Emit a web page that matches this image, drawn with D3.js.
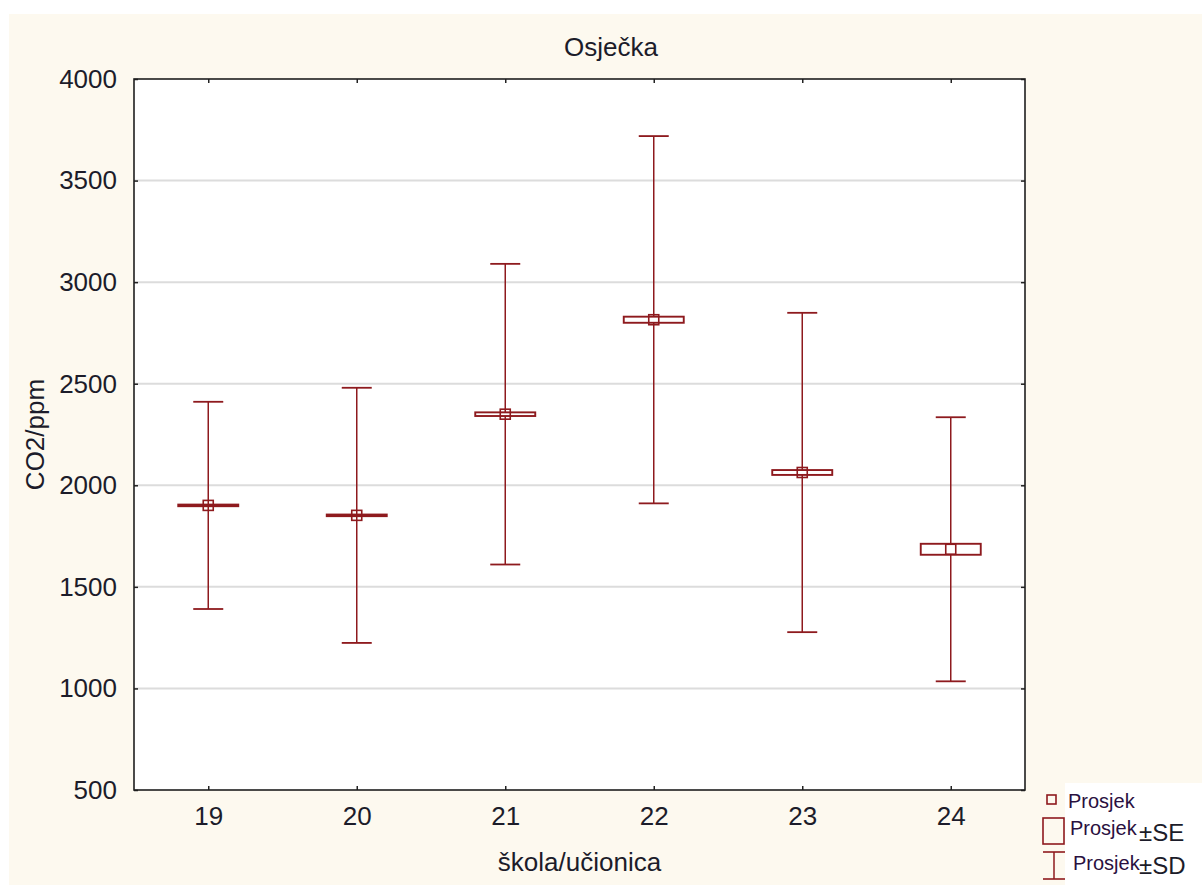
<!DOCTYPE html>
<html>
<head>
<meta charset="utf-8">
<script src="https://cdn.jsdelivr.net/npm/d3@7"></script>
<style>
  html, body { margin: 0; padding: 0; background: #ffffff; }
  svg { display: block; }
  text { font-family: "Liberation Sans", Arial, sans-serif; }
</style>
</head>
<body>
<script>
// CO2 concentration per classroom: mean, standard error and standard deviation
const categories = ["19", "20", "21", "22", "23", "24"];
const means      = [1901, 1852, 2350, 2815, 2063, 1685];
const stdErrors  = [4, 4, 9, 15, 12, 27];
const stdDevs    = [510, 628, 740, 904, 786, 650];
const yTicks     = [500, 1000, 1500, 2000, 2500, 3000, 3500, 4000];

const W = 1202, H = 885;
const margin = { left: 134, top: 79, right: 1025, bottom: 790 };
const ink = "#8e1a1e";
const textInk = "#1c1c2a";
const fontSize = 26;

const svg = d3.select("body").append("svg")
  .attr("width", W).attr("height", H);

// cream figure background
svg.append("rect").attr("x", 9).attr("y", 14)
  .attr("width", W - 9).attr("height", H - 14).attr("fill", "#fdf9ef");

const x = d3.scalePoint().domain(categories)
  .range([margin.left, margin.right]).padding(0.5);
const y = d3.scaleLinear().domain([500, 4000])
  .range([margin.bottom, margin.top]);

// plot panel
svg.append("rect")
  .attr("x", margin.left).attr("y", margin.top)
  .attr("width", margin.right - margin.left)
  .attr("height", margin.bottom - margin.top)
  .attr("fill", "#ffffff");

// horizontal grid
svg.append("g").selectAll("line")
  .data(yTicks.filter(t => t > 500 && t < 4000))
  .join("line")
  .attr("x1", margin.left).attr("x2", margin.right)
  .attr("y1", d => y(d)).attr("y2", d => y(d))
  .attr("stroke", "#dcdcdc").attr("stroke-width", 2);

// axes with short inward ticks
const tickFont = g => g.selectAll("text")
  .attr("font-size", fontSize).attr("fill", textInk)
  .attr("font-family", "'Liberation Sans', Arial, sans-serif");
const tickLines = g => {
  g.select(".domain").remove();
  g.selectAll("line").attr("stroke", "#222").attr("stroke-width", 1.5);
};

const axisL = svg.append("g")
  .attr("transform", `translate(${margin.left},0)`)
  .call(d3.axisLeft(y).tickValues(yTicks).tickFormat(d3.format("d"))
    .tickSizeInner(-4).tickSizeOuter(0).tickPadding(17));
tickLines(axisL); tickFont(axisL);

const axisR = svg.append("g")
  .attr("transform", `translate(${margin.right},0)`)
  .call(d3.axisRight(y).tickValues(yTicks).tickFormat("")
    .tickSizeInner(-4).tickSizeOuter(0));
tickLines(axisR);

const axisB = svg.append("g")
  .attr("transform", `translate(0,${margin.bottom})`)
  .call(d3.axisBottom(x).tickSizeInner(-4).tickSizeOuter(0).tickPadding(17));
tickLines(axisB); tickFont(axisB);

const axisT = svg.append("g")
  .attr("transform", `translate(0,${margin.top})`)
  .call(d3.axisTop(x).tickFormat("").tickSizeInner(-4).tickSizeOuter(0));
tickLines(axisT);

// panel border
svg.append("rect")
  .attr("x", margin.left).attr("y", margin.top)
  .attr("width", margin.right - margin.left)
  .attr("height", margin.bottom - margin.top)
  .attr("fill", "none").attr("stroke", "#1e1e1e").attr("stroke-width", 1.6);

// error bars: whisker = mean ± SD, box = mean ± SE, small square = mean
const rows = categories.map((c, i) => ({
  c, m: means[i], se: stdErrors[i], sd: stdDevs[i]
}));
const capHalf = 15, boxHalf = 30, markHalf = 5;

const g = svg.append("g").selectAll("g").data(rows).join("g");

g.append("line")
  .attr("x1", d => x(d.c)).attr("x2", d => x(d.c))
  .attr("y1", d => y(d.m + d.sd)).attr("y2", d => y(d.m - d.sd))
  .attr("stroke", ink).attr("stroke-width", 1.5);
[1, -1].forEach(s => {
  g.append("line")
    .attr("x1", d => x(d.c) - capHalf).attr("x2", d => x(d.c) + capHalf)
    .attr("y1", d => y(d.m + s * d.sd))
    .attr("y2", d => y(d.m + s * d.sd))
    .attr("stroke", ink).attr("stroke-width", 1.8);
});

g.append("rect")
  .attr("x", d => x(d.c) - boxHalf)
  .attr("y", d => y(d.m + d.se))
  .attr("width", boxHalf * 2)
  .attr("height", d => y(d.m - d.se) - y(d.m + d.se))
  .attr("fill", "#ffffff").attr("stroke", ink).attr("stroke-width", 1.9);

g.append("rect")
  .attr("x", d => x(d.c) - markHalf)
  .attr("y", d => y(d.m) - markHalf)
  .attr("width", markHalf * 2).attr("height", markHalf * 2)
  .attr("fill", "none").attr("stroke", ink).attr("stroke-width", 1.6);

// titles
svg.append("text").attr("x", 611).attr("y", 56)
  .attr("text-anchor", "middle").attr("font-size", fontSize).attr("fill", textInk)
  .text("Osječka");
svg.append("text").attr("x", (margin.left + margin.right) / 2).attr("y", 871)
  .attr("text-anchor", "middle").attr("font-size", fontSize).attr("fill", textInk)
  .text("škola/učionica");
svg.append("text")
  .attr("transform", `translate(44,${(margin.top + margin.bottom) / 2}) rotate(-90)`)
  .attr("text-anchor", "middle").attr("font-size", fontSize).attr("fill", textInk)
  .text("CO2/ppm");

// legend
const lg = svg.append("g");
lg.append("rect").attr("x", 1065).attr("y", 783).attr("width", W - 1065).attr("height", H - 783)
  .attr("fill", "#ffffff");
lg.append("rect").attr("x", 1047).attr("y", 795).attr("width", 9).attr("height", 9)
  .attr("fill", "none").attr("stroke", ink).attr("stroke-width", 1.6);
lg.append("text").attr("x", 1068).attr("y", 808).attr("font-size", 20)
  .attr("fill", "#2a1040").text("Prosjek");
lg.append("rect").attr("x", 1043).attr("y", 818).attr("width", 21).attr("height", 26)
  .attr("fill", "none").attr("stroke", ink).attr("stroke-width", 1.6);
lg.append("text").attr("x", 1070).attr("y", 835).attr("font-size", 20)
  .attr("fill", "#2a1040").text("Prosjek");
lg.append("text").attr("x", 1139).attr("y", 841).attr("font-size", 24)
  .attr("fill", textInk).text("±SE");
lg.append("line").attr("x1", 1054).attr("x2", 1054).attr("y1", 852).attr("y2", 879)
  .attr("stroke", ink).attr("stroke-width", 1.5);
lg.append("line").attr("x1", 1043).attr("x2", 1065).attr("y1", 852).attr("y2", 852)
  .attr("stroke", ink).attr("stroke-width", 1.6);
lg.append("line").attr("x1", 1043).attr("x2", 1065).attr("y1", 879).attr("y2", 879)
  .attr("stroke", ink).attr("stroke-width", 1.6);
lg.append("text").attr("x", 1073).attr("y", 870).attr("font-size", 20)
  .attr("fill", "#2a1040").text("Prosjek");
lg.append("text").attr("x", 1139).attr("y", 874).attr("font-size", 24)
  .attr("fill", textInk).text("±SD");
</script>
</body>
</html>
